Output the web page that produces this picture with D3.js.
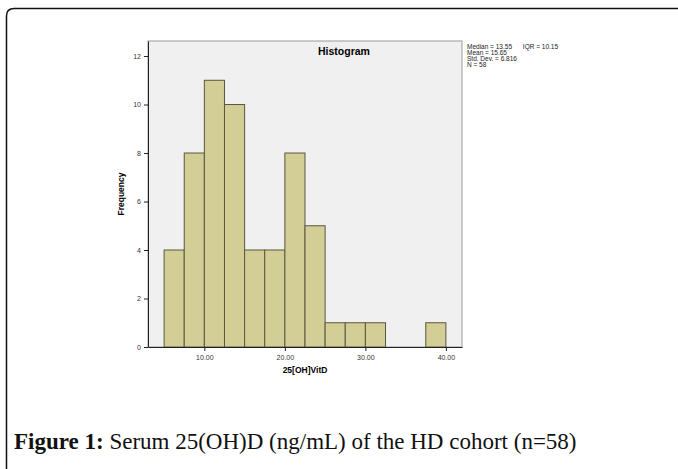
<!DOCTYPE html>
<html>
<head>
<meta charset="utf-8">
<script src="https://cdn.jsdelivr.net/npm/d3@7"></script>
<style>
body { margin: 0; background: #fff; }
svg { display: block; }
.axis text { font-family: "Liberation Sans", Arial, sans-serif; font-size: 7px; fill: #333; }
.axis path, .axis line { stroke: #222; }
</style>
</head>
<body>
<div class="chart"></div>
<script>
var svgWidth = 678;
var svgHeight = 469;

// histogram bins (lower edge) and counts
var binStarts = [5, 7.5, 10, 12.5, 15, 17.5, 20, 22.5, 25, 27.5, 30, 32.5, 35, 37.5];
var binWidth = 2.5;
var counts = [4, 8, 11, 10, 4, 4, 8, 5, 1, 1, 1, 0, 0, 1];
var xTicks = [10, 20, 30, 40];
var yTicks = [0, 2, 4, 6, 8, 10, 12];
var statLines = ["Median = 13.55      IQR = 10.15", "Mean = 15.65", "Std. Dev. = 6.816", "N = 58"];

var plot = { left: 148, top: 41, right: 462, bottom: 347 };

var svg = d3.select(".chart")
    .append("svg")
    .attr("width", svgWidth)
    .attr("height", svgHeight);

// outer frame with rounded top-left corner
svg.append("path")
    .attr("d", "M6.5,480 L6.5,16 Q6.5,8.5 14,8.5 L690,8.5")
    .attr("fill", "none")
    .attr("stroke", "#111")
    .attr("stroke-width", 1.5);

var xScale = d3.scaleLinear().domain([3, 42]).range([plot.left, plot.right]);
var yScale = d3.scaleLinear().domain([0, 12.62]).range([plot.bottom, plot.top]);

// plot background
svg.append("rect")
    .attr("x", plot.left)
    .attr("y", plot.top)
    .attr("width", plot.right - plot.left)
    .attr("height", plot.bottom - plot.top)
    .attr("fill", "#f0f0f0")
    .attr("stroke", "#9a9a9a")
    .attr("stroke-width", 1);

var bars = binStarts.map(function (s, i) { return { x0: s, x1: s + binWidth, n: counts[i] }; })
    .filter(function (d) { return d.n > 0; });

svg.selectAll("rect.bar")
    .data(bars)
    .enter()
    .append("rect")
    .attr("class", "bar")
    .attr("x", function (d) { return xScale(d.x0); })
    .attr("y", function (d) { return yScale(d.n); })
    .attr("width", function (d) { return xScale(d.x1) - xScale(d.x0); })
    .attr("height", function (d) { return yScale(0) - yScale(d.n); })
    .attr("fill", "#d3ce96")
    .attr("stroke", "#5a5740")
    .attr("stroke-width", 1);

// axes
var xAxis = d3.axisBottom(xScale).tickValues(xTicks).tickSize(4).tickSizeOuter(0)
    .tickFormat(d3.format(".2f"));
var yAxis = d3.axisLeft(yScale).tickValues(yTicks).tickSize(4).tickSizeOuter(0);

svg.append("g")
    .attr("class", "axis")
    .attr("transform", `translate(0,${plot.bottom})`)
    .call(xAxis)
    .call(function (g) { g.selectAll("text").attr("dy", "0.9em"); });

svg.append("g")
    .attr("class", "axis")
    .attr("transform", `translate(${plot.left},0)`)
    .call(yAxis);

// titles
svg.append("text")
    .attr("x", 344)
    .attr("y", 55)
    .attr("text-anchor", "middle")
    .attr("font-family", "Liberation Sans, Arial, sans-serif")
    .attr("font-weight", "bold")
    .attr("font-size", "10.5px")
    .text("Histogram");

svg.append("text")
    .attr("x", (plot.left + plot.right) / 2)
    .attr("y", 373)
    .attr("text-anchor", "middle")
    .attr("font-family", "Liberation Sans, Arial, sans-serif")
    .attr("font-weight", "bold")
    .attr("font-size", "8.5px")
    .text("25[OH]VitD");

svg.append("text")
    .attr("transform", `translate(124,${(plot.top + plot.bottom) / 2})rotate(270)`)
    .attr("text-anchor", "middle")
    .attr("font-family", "Liberation Sans, Arial, sans-serif")
    .attr("font-weight", "bold")
    .attr("font-size", "8.5px")
    .text("Frequency");

// summary statistics
svg.append("g")
    .selectAll("text")
    .data(statLines)
    .enter()
    .append("text")
    .attr("x", 467)
    .attr("y", function (d, i) { return 49 + i * 6; })
    .attr("font-family", "Liberation Sans, Arial, sans-serif")
    .attr("font-size", "6.5px")
    .attr("fill", "#222")
    .style("white-space", "pre")
    .text(function (d) { return d; });

// caption
var cap = svg.append("text")
    .attr("x", 14)
    .attr("y", 449)
    .attr("font-family", "Liberation Serif, Times New Roman, serif")
    .attr("font-size", "23px")
    .attr("fill", "#111");
cap.append("tspan").attr("font-weight", "bold").text("Figure 1:");
cap.append("tspan").text(" Serum 25(OH)D (ng/mL) of the HD cohort (n=58)");
</script>
</body>
</html>
